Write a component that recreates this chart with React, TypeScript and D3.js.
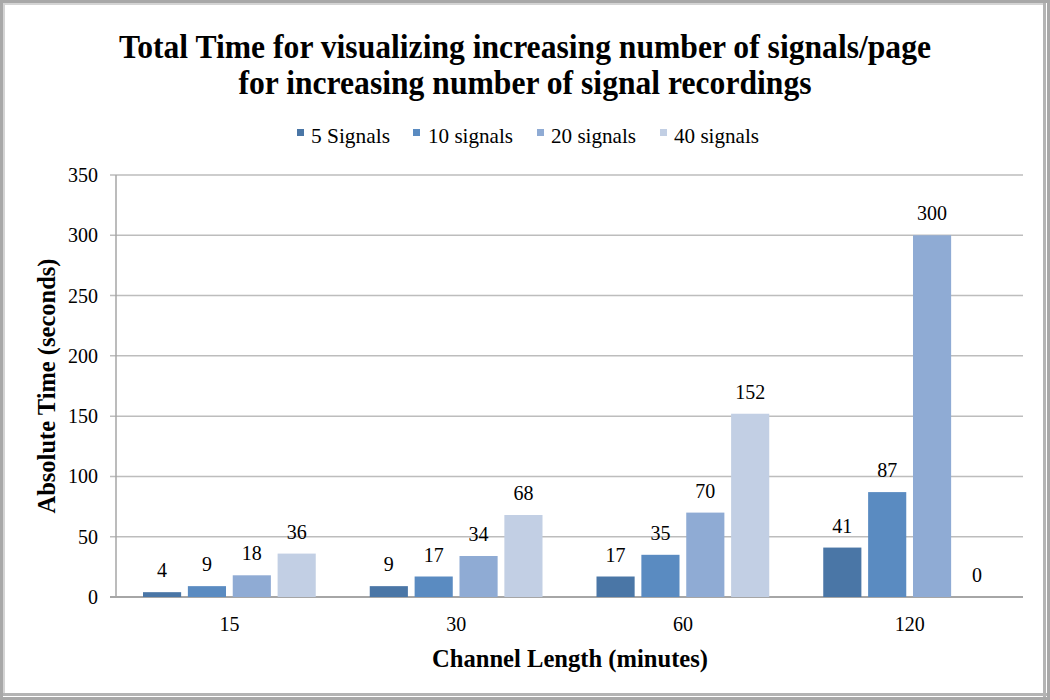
import React from "react";
import * as d3 from "d3";

const categories = ["15", "30", "60", "120"];
const seriesNames = ["5 Signals", "10 signals", "20 signals", "40 signals"];
const s5 = [4, 9, 17, 41];
const s10 = [9, 17, 35, 87];
const s20 = [18, 34, 70, 300];
const s40 = [36, 68, 152, 0];
const yTicks = [0, 50, 100, 150, 200, 250, 300, 350];
const colors = ["#4a76a6", "#5a8bc1", "#8fabd4", "#c2cfe4"];

const W = 1050;
const H = 700;
const plot = { left: 116, right: 1023, top: 175, bottom: 597 };
const serif = "'Liberation Serif', 'Times New Roman', serif";

export default function App() {
  const seriesValues = [s5, s10, s20, s40];
  const x0 = d3.scaleBand<string>().domain(categories).range([plot.left, plot.right]).paddingInner(0).paddingOuter(0);
  const bw = x0.bandwidth();
  const x1 = d3.scaleBand<string>().domain(seriesNames).range([27, bw - 27]).paddingInner(0.15).paddingOuter(0);
  const y = d3.scaleLinear().domain([0, 350]).range([plot.bottom, plot.top]);

  const legendItems = [
    { sq: 297, tx: 311, w: 79 },
    { sq: 413, tx: 428, w: 85 },
    { sq: 537, tx: 551, w: 85 },
    { sq: 660, tx: 674, w: 85 },
  ];

  return (
    <div style={{ position: "fixed", left: 0, top: 0 }}>
      <svg width={W} height={H} style={{ display: "block", background: "#fff" }}>
        <rect x={0} y={0} width={W} height={H} fill="#fff" />
        {/* frame */}
        <rect x={1.5} y={1.5} width={W - 3} height={H - 3} fill="none" stroke="#a8a8a8" strokeWidth={3} />
        <rect x={4} y={4} width={W - 9} height={H - 9} fill="none" stroke="#d4d4d4" strokeWidth={2} />
        <rect x={W - 7} y={3} width={3} height={H - 6} fill="#b4b4b4" />
        <rect x={3} y={H - 7} width={W - 6} height={3} fill="#b4b4b4" />

        {/* title */}
        <text x={525} y={58} textAnchor="middle" fontFamily={serif} fontWeight="bold" fontSize={34}
          textLength={812} lengthAdjust="spacingAndGlyphs">
          Total Time for visualizing increasing number of signals/page
        </text>
        <text x={525} y={94} textAnchor="middle" fontFamily={serif} fontWeight="bold" fontSize={34}
          textLength={573} lengthAdjust="spacingAndGlyphs">
          for increasing number of signal recordings
        </text>

        {/* legend */}
        {seriesNames.map((name, i) => (
          <g key={name}>
            <rect x={legendItems[i].sq} y={129} width={7} height={7} fill={colors[i]} />
            <text x={legendItems[i].tx} y={143} fontFamily={serif} fontSize={21}
              textLength={legendItems[i].w} lengthAdjust="spacingAndGlyphs">{name}</text>
          </g>
        ))}

        {/* gridlines */}
        {yTicks.map((t) => (
          <g key={t}>
            <line x1={plot.left - 6} x2={plot.right} y1={y(t)} y2={y(t)}
              stroke={t === 0 ? "#a6a6a6" : "#bdbdbd"} strokeWidth={t === 0 ? 2 : 1.5} />
            <text x={98} y={y(t) + 7} textAnchor="end" fontFamily={serif} fontSize={20}>{t}</text>
          </g>
        ))}
        <line x1={plot.left} x2={plot.left} y1={plot.top} y2={plot.bottom} stroke="#a6a6a6" strokeWidth={1.5} />

        {/* bars */}
        {categories.map((c, ci) => (
          <g key={c} transform={`translate(${x0(c)},0)`}>
            {seriesNames.map((s, si) => {
              const v = seriesValues[si][ci];
              const bx = x1(s)!;
              return (
                <g key={s}>
                  {v > 0 && (
                    <rect x={bx} y={y(v)} width={x1.bandwidth()} height={y(0) - y(v)} fill={colors[si]} />
                  )}
                  <text x={bx + x1.bandwidth() / 2} y={y(v) - 15} textAnchor="middle" fontFamily={serif} fontSize={20}>
                    {v}
                  </text>
                </g>
              );
            })}
            <text x={bw / 2} y={631} textAnchor="middle" fontFamily={serif} fontSize={20}>{c}</text>
          </g>
        ))}

        {/* axis titles */}
        <text x={570} y={667} textAnchor="middle" fontFamily={serif} fontWeight="bold" fontSize={25}
          textLength={276} lengthAdjust="spacingAndGlyphs">
          Channel Length (minutes)
        </text>
        <text transform={`translate(55,386) rotate(-90)`} textAnchor="middle" fontFamily={serif} fontWeight="bold" fontSize={25}
          textLength={255} lengthAdjust="spacingAndGlyphs">
          Absolute Time (seconds)
        </text>
      </svg>
    </div>
  );
}
